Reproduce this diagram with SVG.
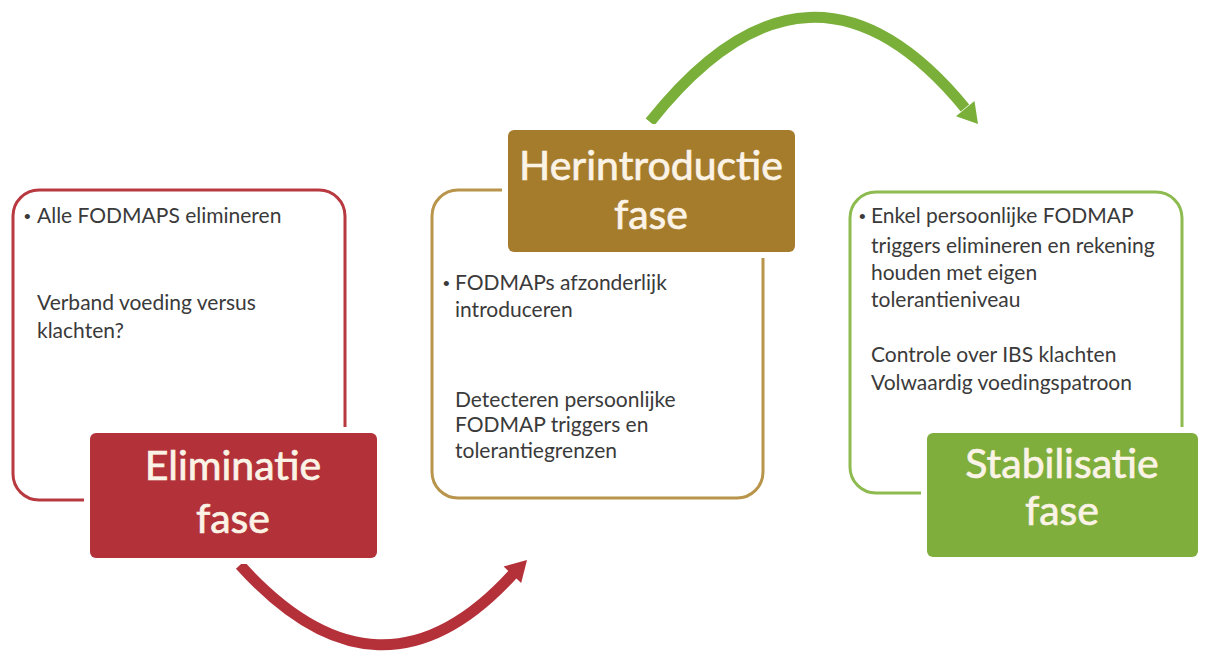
<svg xmlns="http://www.w3.org/2000/svg" width="1209" height="656" viewBox="0 0 1209 656">
<style>
.body{font-family:Lato,"Open Sans","Liberation Sans",sans-serif;font-size:21px;fill:#3a3a3a}
.bul{font-family:"Liberation Sans",sans-serif;font-size:19px;fill:#3a3a3a}
.title{font-family:Lato,"Open Sans","Liberation Sans",sans-serif;font-size:41px;fill:#fbf3e6;stroke:#fbf3e6;stroke-width:0.7;text-anchor:middle}
.outline{fill:#fff;stroke-width:3}
.head{stroke:#fff;stroke-width:12;paint-order:stroke}
</style>
<rect width="1209" height="656" fill="#fff"/>
<g id="connectors">
  <path d="M240,565 Q380,720 513,574" fill="none" stroke="#b5313a" stroke-width="11"/>
  <polygon points="527,560 521.2,583 503.6,566.4" fill="#b5313a"/>
  <path d="M650,122 Q810,-80 965,108" fill="none" stroke="#7ab03a" stroke-width="11"/>
  <polygon points="978,124 974.5,101 956,116.2" fill="#7ab03a"/>
</g>
<g id="eliminatie">
  <rect class="outline" x="13" y="190" width="332" height="310" rx="26" stroke="#b83a40"/>
  <text class="bul" x="24" y="223">•</text>
  <text class="body" x="37" y="223">Alle FODMAPS  elimineren</text>
  <text class="body" x="37" y="310">Verband voeding versus</text>
  <text class="body" x="37" y="338">klachten?</text>
  <rect class="head" x="90" y="433" width="287" height="125" rx="6" fill="#b3323a"/>
  <text class="title" x="233" y="480">Eliminatie</text>
  <text class="title" x="233" y="533">fase</text>
</g>
<g id="herintroductie">
  <rect class="outline" x="432" y="190" width="331" height="308" rx="26" stroke="#b8954a"/>
  <rect class="head" x="508" y="130" width="287" height="122" rx="6" fill="#a57c2c"/>
  <text class="title" x="651" y="180">Herintroductie</text>
  <text class="title" x="651" y="229">fase</text>
  <text class="bul" x="443" y="290">•</text>
  <text class="body" x="455" y="290">FODMAPs afzonderlijk</text>
  <text class="body" x="455" y="317">introduceren</text>
  <text class="body" x="455" y="407">Detecteren  persoonlijke</text>
  <text class="body" x="455" y="432">FODMAP triggers en</text>
  <text class="body" x="455" y="458">tolerantiegrenzen</text>
</g>
<g id="stabilisatie">
  <rect class="outline" x="850" y="192" width="332" height="301" rx="26" stroke="#8dbb4f"/>
  <text class="bul" x="859" y="223">•</text>
  <text class="body" x="871" y="223">Enkel persoonlijke FODMAP</text>
  <text class="body" x="871" y="253">triggers elimineren en rekening</text>
  <text class="body" x="871" y="280">houden met eigen</text>
  <text class="body" x="871" y="307">tolerantieniveau</text>
  <text class="body" x="871" y="362">Controle over IBS klachten</text>
  <text class="body" x="871" y="390">Volwaardig voedingspatroon</text>
  <rect class="head" x="927" y="433" width="271" height="124" rx="6" fill="#7fae3c"/>
  <text class="title" x="1062" y="478">Stabilisatie</text>
  <text class="title" x="1062" y="525">fase</text>
</g>
</svg>
